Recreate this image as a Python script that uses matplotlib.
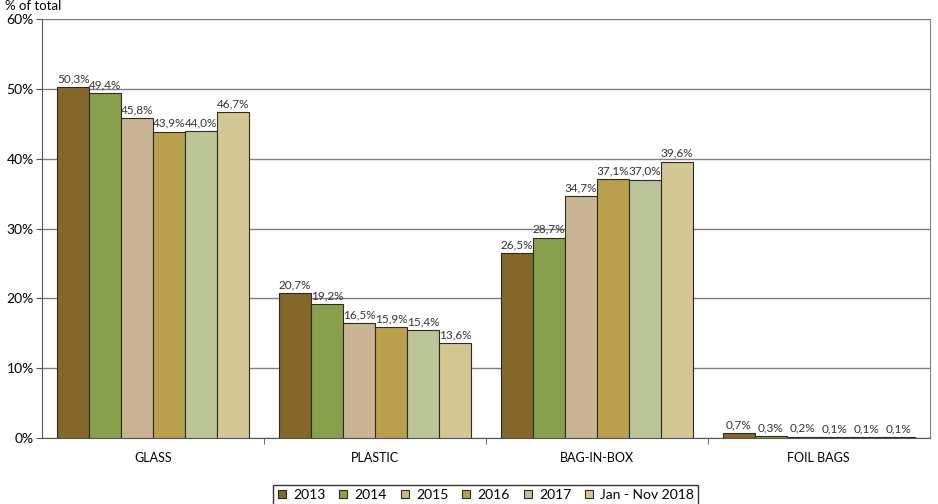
import matplotlib.pyplot as plt
import numpy as np

categories = ["GLASS", "PLASTIC", "BAG-IN-BOX", "FOIL BAGS"]
series = ["2013", "2014", "2015", "2016", "2017", "Jan - Nov 2018"]
values = [
    [50.3, 20.7, 26.5, 0.7],
    [49.4, 19.2, 28.7, 0.3],
    [45.8, 16.5, 34.7, 0.2],
    [43.9, 15.9, 37.1, 0.1],
    [44.0, 15.4, 37.0, 0.1],
    [46.7, 13.6, 39.6, 0.1],
]
colors = ["#83672B", "#88A04C", "#C9B593", "#B8A04C", "#BBC598", "#D4C794"]

plt.rcParams['font.family'] = ['Lato', 'DejaVu Sans']

fig = plt.figure(figsize=(9.38, 5.04), dpi=100)
ax = fig.add_axes([0.045, 0.131, 0.946, 0.831])

x = np.arange(len(categories))
n = len(series)
bw = 0.865 / n
for i, (name, vals) in enumerate(zip(series, values)):
    pos = x - 0.865 / 2 + bw * (i + 0.5)
    ax.bar(pos, vals, width=bw, color=colors[i], edgecolor="#2b2b1f",
           linewidth=0.8, label=name, zorder=3)
    for p, v in zip(pos, vals):
        ax.text(p, v + 0.4, f"{v:.1f}%".replace(".", ","), ha="center",
                va="bottom", fontsize=8.5, color="#333333", zorder=4)

ax.set_xlim(-0.5, len(categories) - 0.5)
ax.set_ylim(0, 60)
ax.set_yticks(np.arange(0, 61, 10))
ax.set_yticklabels([f"{t}%" for t in range(0, 61, 10)], fontsize=10)
ax.yaxis.grid(True, color="#808080", linewidth=1, zorder=0)
ax.set_xticks(x)
ax.set_xticklabels(categories, fontsize=9)
ax.tick_params(axis="x", length=0, pad=10)
ax.set_xticks(np.arange(0.5, len(categories) - 1, 1), minor=True)
ax.tick_params(axis="x", which="minor", length=4, direction="out", color="#555555")
ax.tick_params(axis="y", length=4, color="#555555", pad=2)
for s in ["left", "bottom"]:
    ax.spines[s].set_color("#555555")
for s in ["top", "right"]:
    ax.spines[s].set_color("#808080")

fig.text(0.005, 0.988, "% of total", fontsize=9.5, va="center")

leg = ax.legend(loc="upper center", bbox_to_anchor=(0.5, -0.095), ncol=6,
                frameon=True, fancybox=False, edgecolor="black", fontsize=10,
                handlelength=0.6, handleheight=0.6, handletextpad=0.5,
                columnspacing=1.0, borderpad=0.3)
leg.get_frame().set_linewidth(1)

fig.savefig("out.png", dpi=100)
